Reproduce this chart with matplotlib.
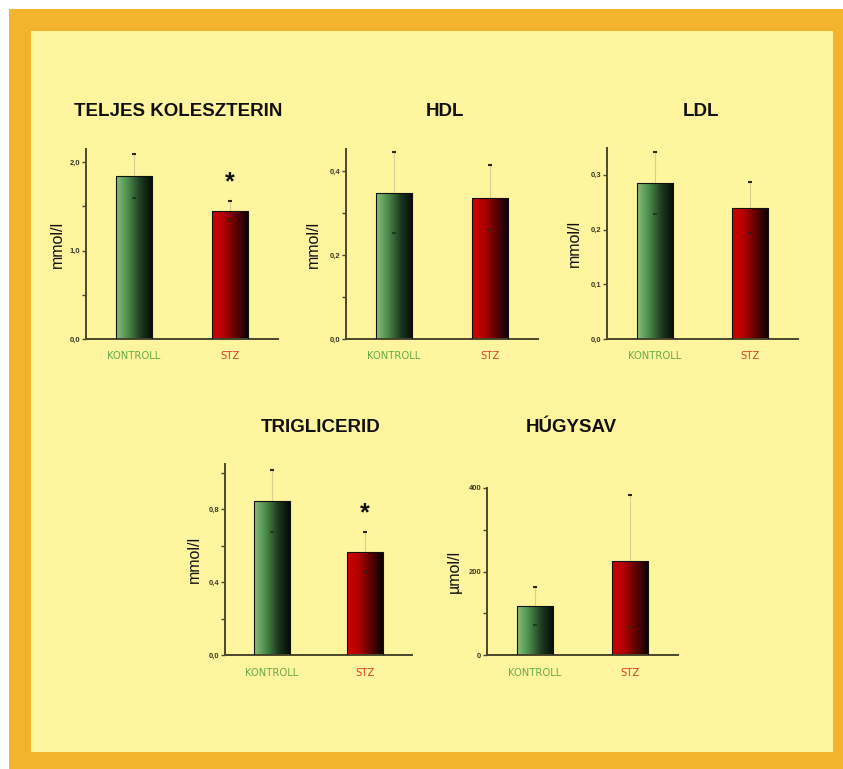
import numpy as np
import matplotlib
matplotlib.use("Agg")
import matplotlib.pyplot as plt
from matplotlib.colors import LinearSegmentedColormap
from matplotlib.patches import Rectangle
from matplotlib.ticker import MultipleLocator, FuncFormatter

# ---- data -------------------------------------------------------------
categories = ["KONTROLL", "STZ"]

chol_mean = [1.84, 1.45]
chol_sd = [0.25, 0.11]

hdl_mean = [0.348, 0.336]
hdl_sd = [0.097, 0.077]

ldl_mean = [0.285, 0.240]
ldl_sd = [0.057, 0.047]

tg_mean = [0.844, 0.564]
tg_sd = [0.17, 0.11]

ua_mean = [117, 225]
ua_sd = [45, 158]

titles = ["TELJES KOLESZTERIN", "HDL", "LDL", "TRIGLICERID", "HÚGYSAV"]
units = ["mmol/l", "mmol/l", "mmol/l", "mmol/l", "µmol/l"]
significant = [[False, True], [False, False], [False, False], [False, True], [False, False]]

# ---- style ------------------------------------------------------------
W, H = 843, 769
plt.rcParams["font.family"] = ["Liberation Sans", "DejaVu Sans"]

ORANGE = "#f2b42c"
YELLOW = "#fff59e"
SPINE = "#4a472c"
TICKTXT = "#3c3a28"
CAT_COLORS = ["#62ad48", "#d8402a"]

green_cmap = LinearSegmentedColormap.from_list("g", ["#86c07a", "#4a8a4a", "#1d3a1f", "#050a05"])
red_cmap = LinearSegmentedColormap.from_list("r", ["#d40000", "#b00000", "#5a0000", "#080000"])
bar_cmaps = [green_cmap, red_cmap]

fig = plt.figure(figsize=(W / 100, H / 100), dpi=100, facecolor="white")

# frame
fig.patches.append(Rectangle((9 / W, 0), (W - 9) / W, (H - 9) / H,
                             transform=fig.transFigure, facecolor=ORANGE,
                             edgecolor="none", zorder=-10))
fig.patches.append(Rectangle((31 / W, 1 - 752 / H), (833 - 31) / W, (752 - 31) / H,
                             transform=fig.transFigure, facecolor=YELLOW,
                             edgecolor="none", zorder=-9))


def px_axes(left, right, top, bottom):
    return fig.add_axes([left / W, 1 - bottom / H, (right - left) / W, (bottom - top) / H])


def comma(v, p):
    return f"{v:.1f}".replace(".", ",")


# panel geometry in pixels: left, right, top, bottom
panels = [
    dict(box=(86, 278, 149, 339), mean=chol_mean, sd=chol_sd, ytop=2.147,
         major=1.0, minor=0.5, fmt=comma, title_xy=(178, 112), lab=-21),
    dict(box=(346, 538, 149, 339), mean=hdl_mean, sd=hdl_sd, ytop=0.452,
         major=0.2, minor=0.1, fmt=comma, title_xy=(445, 112), lab=-25),
    dict(box=(607, 798, 148, 339), mean=ldl_mean, sd=ldl_sd, ytop=0.349,
         major=0.1, minor=None, fmt=comma, title_xy=(701, 112), lab=-25),
    dict(box=(225, 412, 464, 655), mean=tg_mean, sd=tg_sd, ytop=1.047,
         major=0.4, minor=0.2, fmt=comma, title_xy=(321, 427), lab=-23),
    dict(box=(487, 678, 488, 655), mean=ua_mean, sd=ua_sd, ytop=400,
         major=200, minor=100, fmt=lambda v, p: f"{v:.0f}", title_xy=(571, 427), lab=-25),
]

x = np.arange(len(categories))
bw = 0.38
grad = np.linspace(0, 1, 256).reshape(1, -1)

for i, p in enumerate(panels):
    l, r, t, b = p["box"]
    ax = px_axes(l, r, t, b)
    ax.set_facecolor("none")
    ax.set_xlim(-0.5, 1.5)
    ax.set_ylim(0, p["ytop"])

    bars = ax.bar(x, p["mean"], width=bw, facecolor="none", edgecolor="#111111",
                  linewidth=0.8, zorder=3)
    for j, bar in enumerate(bars):
        x0, w = bar.get_x(), bar.get_width()
        im = ax.imshow(grad, cmap=bar_cmaps[j], aspect="auto",
                       extent=(x0, x0 + w, 0, p["mean"][j]), zorder=2,
                       interpolation="bicubic")
        im.set_clip_path(bar)

    # error bars: faint whisker with small dark caps
    ax.errorbar(x, p["mean"], yerr=p["sd"], fmt="none", ecolor="#d9cf95",
                elinewidth=0.8, capsize=0, zorder=1)
    mean = np.array(p["mean"], dtype=float)
    sd = np.array(p["sd"], dtype=float)
    ax.plot(x, mean + sd, linestyle="none", marker="_", markersize=3,
            markeredgewidth=1.5, color="#2a2a1a", zorder=4)
    ax.plot(x, mean - sd, linestyle="none", marker="_", markersize=3,
            markeredgewidth=1.5, color="#1a2a1a", zorder=4, alpha=0.7)

    for j, sig in enumerate(significant[i]):
        if sig:
            ax.annotate("*", (x[j], mean[j] + sd[j]), xytext=(0, 5),
                        textcoords="offset points", ha="center", va="bottom",
                        fontsize=18, fontweight="bold", color="#111111")

    for s in ["top", "right"]:
        ax.spines[s].set_visible(False)
    for s in ["left", "bottom"]:
        ax.spines[s].set_color(SPINE)
        ax.spines[s].set_linewidth(1.4)

    ax.yaxis.set_major_locator(MultipleLocator(p["major"]))
    if p["minor"]:
        ax.yaxis.set_minor_locator(MultipleLocator(p["minor"]))
    ax.yaxis.set_major_formatter(FuncFormatter(p["fmt"]))
    ax.tick_params(axis="y", which="both", direction="out", length=3, width=1.0,
                   color=SPINE, labelsize=5.5, labelcolor=TICKTXT, pad=1)
    for lab in ax.get_yticklabels():
        lab.set_fontweight("bold")

    ax.set_xticks(x)
    ax.set_xticklabels(categories)
    ax.tick_params(axis="x", length=0, pad=9, labelsize=8)
    for j, lab in enumerate(ax.get_xticklabels()):
        lab.set_color(CAT_COLORS[j])
        lab.set_family("DejaVu Sans")
        lab.set_fontstretch("condensed")

    ax.set_ylabel(units[i], fontsize=11.5, color="#111111")
    ax.yaxis.set_label_coords(p["lab"] / (r - l), 0.5)

    tx, ty = p["title_xy"]
    fig.text(tx / W, 1 - ty / H, titles[i], ha="center", va="center",
             fontsize=13.5, fontweight="bold", color="#111111")

fig.savefig("out.png", dpi=100, facecolor="white")
